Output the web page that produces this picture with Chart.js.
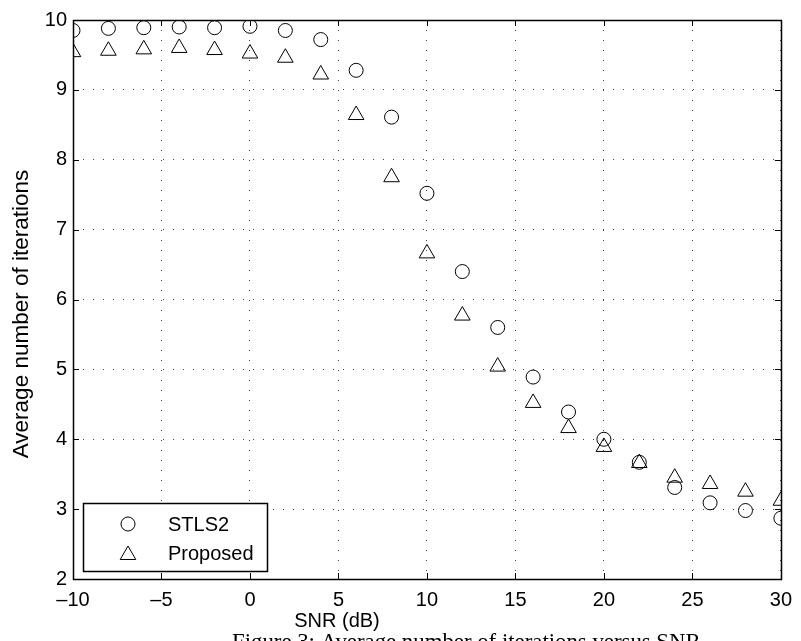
<!DOCTYPE html>
<html>
<head>
<meta charset="utf-8">
<script src="https://cdn.jsdelivr.net/npm/chart.js@4/dist/chart.umd.min.js"></script>
<style>
  html, body { margin: 0; padding: 0; background: #fff; }
  #wrap { width: 801px; height: 641px; }
</style>
</head>
<body>
<div id="wrap"><canvas id="itChart" width="801" height="641"></canvas></div>
<script>
// SNR values (dB)
const snr = [-10, -8, -6, -4, -2, 0, 2, 4, 6, 8, 10, 12, 14, 16, 18, 20, 22, 24, 26, 28, 30];
// average iterations
const stls2 = [9.85, 9.88, 9.89, 9.90, 9.89, 9.91, 9.85, 9.72, 9.28, 8.61, 7.52, 6.40, 5.60, 4.89, 4.39, 4.00, 3.67, 3.31, 3.09, 2.98, 2.87];
const proposed = [9.54, 9.56, 9.58, 9.60, 9.57, 9.52, 9.46, 9.22, 8.64, 7.75, 6.66, 5.77, 5.04, 4.52, 4.16, 3.89, 3.66, 3.45, 3.36, 3.25, 3.12];
const xTicks = [-10, -5, 0, 5, 10, 15, 20, 25, 30];
const yTicks = [2, 3, 4, 5, 6, 7, 8, 9, 10];

const FONT = "Liberation Sans, Arial, Helvetica, sans-serif";

const toPoints = (ys) => snr.map((x, i) => ({ x: x, y: ys[i] }));

// MATLAB-like frame: solid box, inward ticks, legend, labels, caption
const matlabFrame = {
  id: "matlabFrame",
  afterDatasetsDraw(chart) {
    const ctx = chart.ctx;
    const a = chart.chartArea;
    const xs = chart.scales.x, ys = chart.scales.y;
    const tl = 6;
    ctx.save();
    ctx.strokeStyle = "#000";
    ctx.lineWidth = 1;
    ctx.beginPath();
    xTicks.forEach(v => {
      const px = Math.round(xs.getPixelForValue(v)) + 0.5;
      ctx.moveTo(px, a.bottom); ctx.lineTo(px, a.bottom - tl);
      ctx.moveTo(px, a.top); ctx.lineTo(px, a.top + tl);
    });
    yTicks.forEach(v => {
      const py = Math.round(ys.getPixelForValue(v)) + 0.5;
      ctx.moveTo(a.left, py); ctx.lineTo(a.left + tl, py);
      ctx.moveTo(a.right, py); ctx.lineTo(a.right - tl, py);
    });
    ctx.stroke();
    ctx.lineWidth = 1.5;
    ctx.strokeRect(Math.round(a.left) + 0.5, Math.round(a.top) + 0.5,
      Math.round(a.right - a.left), Math.round(a.bottom - a.top));

    // legend box
    const lx = 83, ly = 503, lw = 184, lh = 68;
    ctx.fillStyle = "#fff";
    ctx.fillRect(lx, ly, lw, lh);
    ctx.lineWidth = 1.5;
    ctx.strokeRect(lx + 0.5, ly + 0.5, lw, lh);
    ctx.lineWidth = 1;
    chart.data.datasets.forEach((ds, i) => {
      const cy = ly + 21 + i * 29;
      const cx = lx + 45;
      ctx.beginPath();
      if (ds.pointStyle === "triangle") {
        const r = ds.pointRadius;
        ctx.moveTo(cx, cy - r + 2);
        ctx.lineTo(cx + r * 0.866, cy + r * 0.5 + 2);
        ctx.lineTo(cx - r * 0.866, cy + r * 0.5 + 2);
        ctx.closePath();
      } else {
        ctx.arc(cx, cy, ds.pointRadius, 0, Math.PI * 2);
      }
      ctx.stroke();
      ctx.fillStyle = "#000";
      ctx.font = "20px " + FONT;
      ctx.textAlign = "left";
      ctx.textBaseline = "middle";
      ctx.fillText(ds.label, lx + 85, cy + 1);
    });

    // axis titles
    ctx.fillStyle = "#000";
    ctx.font = "20px " + FONT;
    ctx.textAlign = "center";
    ctx.textBaseline = "middle";
    ctx.fillText("SNR (dB)", 337, 621);
    ctx.save();
    ctx.translate(22, 314);
    ctx.rotate(-Math.PI / 2);
    ctx.font = "22.5px " + FONT;
    ctx.fillText("Average number of iterations", 0, 0);
    ctx.restore();

    // figure caption, cut by the bottom edge
    const cap = "Figure 3: Average number of iterations versus SNR";
    ctx.font = "10px Liberation Serif, Times New Roman, serif";
    const size = 10 * 468 / ctx.measureText(cap).width;
    ctx.font = size.toFixed(1) + "px Liberation Serif, Times New Roman, serif";
    ctx.textAlign = "left";
    ctx.textBaseline = "alphabetic";
    ctx.fillText(cap, 232, 634 + size * 0.66);
    ctx.restore();
  }
};

new Chart(document.getElementById("itChart"), {
  type: "scatter",
  data: {
    datasets: [
      {
        label: "STLS2",
        data: toPoints(stls2),
        pointStyle: "circle",
        pointRadius: 7,
        pointBorderWidth: 1,
        borderColor: "#000",
        backgroundColor: "rgba(0,0,0,0)",
        showLine: false
      },
      {
        label: "Proposed",
        data: toPoints(proposed),
        pointStyle: "triangle",
        pointRadius: 9,
        pointBorderWidth: 1,
        borderColor: "#000",
        backgroundColor: "rgba(0,0,0,0)",
        showLine: false
      }
    ]
  },
  options: {
    responsive: false,
    animation: false,
    layout: { padding: { top: 20, right: 18, left: 0, bottom: 0 } },
    plugins: {
      legend: { display: false },
      tooltip: { enabled: false }
    },
    scales: {
      x: {
        type: "linear",
        min: -10,
        max: 30,
        afterFit: (s) => { s.height = 62; },
        afterBuildTicks: (s) => { s.ticks = xTicks.map(v => ({ value: v })); },
        ticks: {
          color: "#000",
          font: { family: FONT, size: 20 },
          padding: 9,
          maxRotation: 0,
          callback: (v) => (v < 0 ? "\u2013" + Math.abs(v) : String(v))
        },
        grid: { color: "#444", lineWidth: 1, drawTicks: false },
        border: { display: false, dash: [1, 9] }
      },
      y: {
        min: 2,
        max: 10,
        afterFit: (s) => { s.width = 73; },
        afterBuildTicks: (s) => { s.ticks = yTicks.map(v => ({ value: v })); },
        ticks: {
          color: "#000",
          font: { family: FONT, size: 20 },
          padding: 6
        },
        grid: { color: "#444", lineWidth: 1, drawTicks: false },
        border: { display: false, dash: [1, 9] }
      }
    }
  },
  plugins: [matlabFrame]
});
</script>
</body>
</html>
